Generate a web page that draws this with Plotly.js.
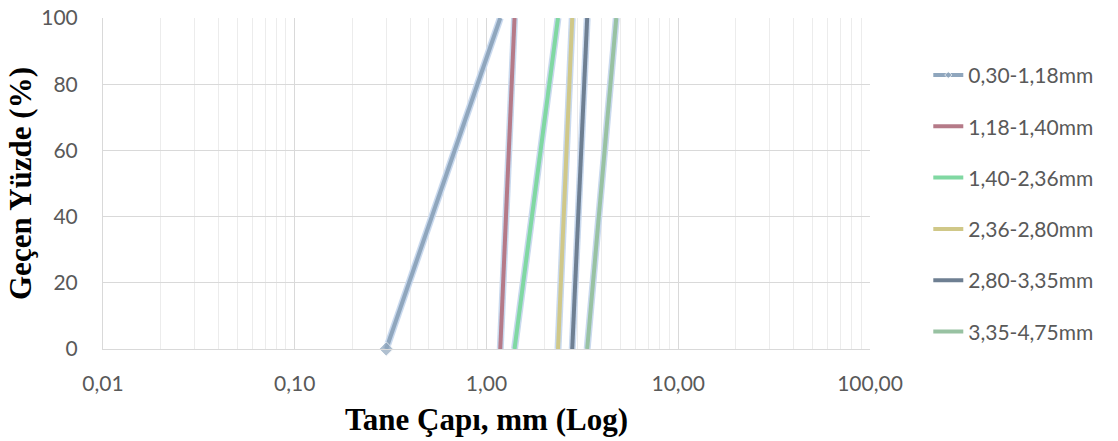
<!DOCTYPE html>
<html>
<head>
<meta charset="utf-8">
<script src="https://cdn.plot.ly/plotly-3.0.1.min.js"></script>
<style>html,body{margin:0;padding:0;background:#fff;}#chart{width:1118px;height:441px;}</style>
</head>
<body>
<div id="chart"></div>
<script>
// Data
const seriesNames = ["0,30-1,18mm","1,18-1,40mm","1,40-2,36mm","2,36-2,80mm","2,80-3,35mm","3,35-4,75mm"];
const diam1 = [0.30, 1.18];
const diam2 = [1.18, 1.40];
const diam3 = [1.40, 2.36];
const diam4 = [2.36, 2.80];
const diam5 = [2.80, 3.35];
const diam6 = [3.35, 4.75];
const passing = [0, 100];
const xTickVals = [0.01, 0.1, 1, 10, 100];
const xTickText = ["0,01","0,10","1,00","10,00","100,00"];

const diams = [diam1, diam2, diam3, diam4, diam5, diam6];
const legendColors = ["#8FA6BD","#E07B7B","#7ED6A0","#FFD970","#7F7F7F","#B4D6A0"];
const plotColors = ["#8FA6BD","#B57A88","#80D8A2","#D0C888","#6E7F92","#98C2A2"];

const traces = [];
// glow underlay
diams.forEach((d, i) => {
  traces.push({
    x: d, y: passing, type: 'scatter', mode: 'lines',
    line: {color: '#C9D9EE', width: 7},
    showlegend: false, hoverinfo: 'skip', cliponaxis: false
  });
});
diams.forEach((d, i) => {
  const t = {
    x: d, y: passing, type: 'scatter',
    mode: 'lines',
    name: seriesNames[i],
    legendgroup: 'g' + i,
    line: {color: plotColors[i], width: 4},
    cliponaxis: false
  };
  if (i === 0) {
    t.mode = 'lines+markers';
    t.marker = {symbol: 'diamond', size: [11, 0], color: legendColors[0]};
  }
  traces.push(t);
});

const titleFont = {family: '"Liberation Serif", "Times New Roman", serif', size: 31, color: '#000', weight: 700};

const layout = {
  width: 1118, height: 441,
  margin: {l: 103, r: 248, t: 18, b: 92},
  paper_bgcolor: '#fff', plot_bgcolor: '#fff',
  showlegend: true,
  font: {family: 'Lato, "Open Sans", sans-serif', color: '#595959', size: 21},
  xaxis: {
    type: 'log', range: [-2, 2],
    tickvals: xTickVals, ticktext: xTickText,
    showgrid: true, gridcolor: '#D9D9D9', gridwidth: 1,
    minor: {showgrid: true, dtick: 'D1', gridcolor: '#ECECEC', gridwidth: 1},
    showline: true, linecolor: '#D9D9D9', linewidth: 1,
    ticks: '', zeroline: false,
    ticklabelstandoff: 16,
    tickfont: {size: 21, color: '#595959'},
    title: {text: 'Tane Çapı, mm (Log)', font: titleFont, standoff: 14}
  },
  yaxis: {
    range: [0, 100], dtick: 20, tick0: 0,
    showgrid: true, gridcolor: '#D9D9D9', gridwidth: 1,
    showline: true, linecolor: '#D9D9D9', linewidth: 1,
    ticks: '', zeroline: false,
    ticklabelstandoff: 20,
    tickfont: {size: 21, color: '#595959'},
    title: {text: 'Geçen Yüzde (%)', font: titleFont, standoff: 0}
  },
  legend: {
    x: 1.076, xanchor: 'left', y: 0.44, yanchor: 'middle',
    font: {size: 21, color: '#595959'},
    tracegroupgap: 21,
    bgcolor: 'rgba(0,0,0,0)'
  }
};

Plotly.newPlot('chart', traces, layout, {displayModeBar: false, staticPlot: true});
</script>
</body>
</html>
